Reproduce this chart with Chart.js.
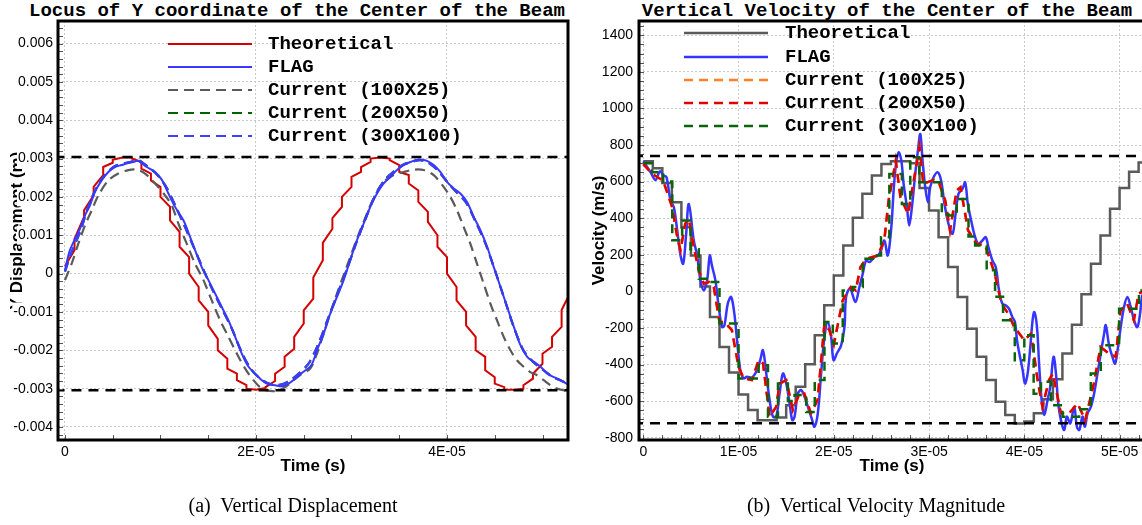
<!DOCTYPE html>
<html>
<head>
<meta charset="utf-8">
<script src="https://cdn.jsdelivr.net/npm/chart.js@4.4.1/dist/chart.umd.min.js"></script>
<style>
body { margin: 0; background: #fff; }
#page { position: relative; width: 1142px; height: 525px; overflow: hidden; }
canvas { position: absolute; top: 0; }
.title { position: absolute; top: 0; line-height: 20px; font: bold 19px "Liberation Mono", monospace; white-space: pre; transform: translateX(-50%); }
.cap { position: absolute; top: 494px; line-height: 22px; font: 20px "Liberation Serif", serif; white-space: pre; transform: translateX(-50%); }
</style>
</head>
<body>
<div id="page">
  <div class="title" style="left:297px">Locus of Y coordinate of the Center of the Beam</div>
  <div class="title" style="left:887px">Vertical Velocity of the Center of the Beam</div>
  <canvas id="left" width="575" height="525" style="left:0"></canvas>
  <canvas id="right" width="600" height="525" style="left:575px"></canvas>
  <div class="cap" style="left:293px">(a)  Vertical Displacement</div>
  <div class="cap" style="left:876px">(b)  Vertical Velocity Magnitude</div>
</div>
<script>
// time in units of 1E-05 s, displacement in mm (converted to m), velocity in m/s

// --- (a) displacement ---
const dispTheo = [[0,0.20],[0.1,0.61],[0.1,0.91],[0.2,1.48],[0.2,1.65],[0.3,2.04],[0.3,2.26],[0.4,2.57],[0.4,2.78],
  [0.5,2.89],[0.5,2.97],[0.6,3.03],[0.6,3.03],[0.7,3.03],[0.7,3.00],[0.8,2.91],[0.8,2.74],[0.9,2.61],[0.9,2.43],
  [1.0,2.26],[1.0,2.00],[1.1,1.74],[1.1,1.39],[1.2,1.09],[1.2,0.70],[1.3,0.43],[1.3,0.00],[1.4,-0.35],[1.4,-0.70],
  [1.5,-1.00],[1.5,-1.35],[1.6,-1.70],[1.6,-2.00],[1.7,-2.22],[1.7,-2.48],[1.8,-2.61],[1.8,-2.78],[1.9,-2.91],[1.9,-3.00],
  [2.0,-3.03],[2.0,-3.03],[2.1,-2.98],[2.1,-2.96],[2.2,-2.80],[2.2,-2.61],[2.3,-2.43],[2.3,-2.17],[2.4,-1.96],[2.4,-1.65],
  [2.5,-1.30],[2.5,-0.96],[2.6,-0.65],[2.6,-0.10],[2.7,0.35],[2.7,0.80],[2.8,1.17],[2.8,1.45],[2.9,1.74],[2.9,2.00],
  [3.0,2.26],[3.0,2.52],[3.1,2.65],[3.1,2.78],[3.2,2.91],[3.2,3.00],[3.3,3.03],[3.3,3.03],[3.4,3.00],[3.4,2.96],
  [3.5,2.83],[3.5,2.65],[3.6,2.57],[3.6,2.35],[3.7,2.17],[3.7,1.87],[3.8,1.61],[3.8,1.35],[3.9,1.00],[3.9,0.70],
  [4.0,0.43],[4.0,0.00],[4.1,-0.35],[4.1,-0.70],[4.2,-1.00],[4.2,-1.35],[4.3,-1.65],[4.3,-2.00],[4.4,-2.17],[4.4,-2.52],
  [4.5,-2.70],[4.5,-2.87],[4.6,-2.96],[4.6,-3.03],[4.7,-3.03],[4.7,-3.03],[4.8,-3.00],[4.8,-2.91],[4.9,-2.74],[4.9,-2.61],
  [5.0,-2.35],[5.0,-2.09],[5.1,-1.91],[5.1,-1.65],[5.2,-1.39],[5.2,-0.95],[5.3,-0.45]];

const dispFlag = [[0,0.09],[0.052,0.61],[0.157,1.17],[0.21,1.52],[0.262,1.78],[0.314,2.13],[0.384,2.43],[0.454,2.65],
  [0.524,2.78],[0.594,2.83],[0.646,2.87],[0.716,2.91],[0.762,2.94],[0.796,2.89],[0.856,2.78],[0.943,2.65],[1.013,2.45],
  [1.083,2.09],[1.153,1.74],[1.24,1.39],[1.29,1.09],[1.362,0.61],[1.432,0.17],[1.502,-0.17],[1.572,-0.52],[1.642,-0.87],
  [1.712,-1.22],[1.782,-1.65],[1.852,-2.09],[1.922,-2.43],[1.992,-2.61],[2.061,-2.78],[2.131,-2.89],[2.2,-2.91],
  [2.271,-2.94],[2.341,-2.87],[2.411,-2.74],[2.48,-2.59],[2.579,-2.39],[2.638,-2.00],[2.708,-1.57],[2.778,-1.04],
  [2.848,-0.61],[2.918,-0.17],[2.987,0.35],[3.057,0.87],[3.127,1.30],[3.197,1.74],[3.267,2.09],[3.337,2.35],[3.407,2.52],
  [3.476,2.70],[3.546,2.83],[3.616,2.91],[3.686,2.97],[3.74,2.97],[3.791,2.94],[3.861,2.83],[3.93,2.65],[4.0,2.39],
  [4.07,2.22],[4.14,2.09],[4.21,1.87],[4.28,1.48],[4.35,1.13],[4.42,0.70],[4.49,0.17],[4.56,-0.35],[4.63,-0.87],
  [4.7,-1.39],[4.77,-1.87],[4.84,-2.17],[4.91,-2.30],[4.98,-2.43],[5.05,-2.61],[5.12,-2.70],[5.19,-2.78],[5.25,-2.87],[5.3,-2.92]];

const disp100 = [[0,-0.17],[0.07,0.26],[0.14,0.78],[0.21,1.26],[0.28,1.65],[0.35,2.04],[0.454,2.43],[0.559,2.61],
  [0.664,2.70],[0.751,2.71],[0.838,2.61],[0.943,2.35],[1.048,2.04],[1.118,1.78],[1.188,1.30],[1.275,0.78],[1.362,0.26],
  [1.45,-0.17],[1.537,-0.70],[1.625,-1.22],[1.712,-1.65],[1.8,-2.09],[1.887,-2.48],[1.974,-2.78],[2.061,-3.00],
  [2.15,-3.06],[2.219,-3.06],[2.306,-2.96],[2.393,-2.78],[2.48,-2.61],[2.568,-2.48],[2.638,-2.09],[2.708,-1.57],
  [2.778,-1.04],[2.848,-0.52],[2.918,-0.04],[2.987,0.43],[3.057,0.91],[3.127,1.35],[3.197,1.78],[3.267,2.13],
  [3.337,2.39],[3.442,2.57],[3.546,2.65],[3.651,2.71],[3.756,2.70],[3.861,2.57],[3.965,2.26],[4.035,2.00],[4.105,1.65],
  [4.174,1.22],[4.244,0.78],[4.314,0.26],[4.384,-0.26],[4.454,-0.78],[4.524,-1.22],[4.594,-1.65],[4.664,-2.00],
  [4.733,-2.26],[4.803,-2.43],[4.873,-2.57],[4.943,-2.65],[5.012,-2.78],[5.082,-2.91],[5.152,-3.00],[5.25,-3.06]];

// 200X50 lies under the 300X100 curve
const disp300 = [[0,0.05],[0.06,0.50],[0.16,1.10],[0.26,1.85],[0.38,2.45],[0.52,2.80],[0.7,2.92],[0.77,2.96],[0.86,2.80],
  [0.95,2.62],[1.05,2.30],[1.15,1.80],[1.25,1.25],[1.36,0.62],[1.45,0.10],[1.55,-0.45],[1.65,-0.95],[1.75,-1.45],
  [1.85,-2.05],[1.95,-2.50],[2.05,-2.75],[2.15,-2.88],[2.25,-2.90],[2.35,-2.80],[2.45,-2.60],[2.55,-2.35],[2.65,-1.85],
  [2.75,-1.20],[2.85,-0.55],[2.95,0.10],[3.05,0.80],[3.15,1.45],[3.25,2.05],[3.35,2.45],[3.45,2.68],[3.55,2.85],
  [3.65,2.93],[3.72,2.96],[3.8,2.90],[3.9,2.70],[4.0,2.40],[4.1,2.12],[4.2,1.85],[4.3,1.35],[4.4,0.80],[4.5,0.10],
  [4.6,-0.65],[4.7,-1.40],[4.8,-2.00],[4.9,-2.30],[5.0,-2.50],[5.1,-2.68],[5.2,-2.80],[5.3,-2.90]];
const disp200 = disp300;
const dispBounds = [3.04, -3.04];
const dispXTicks = [0, 2e-5, 4e-5];
const dispXLabels = ['0', '2E-05', '4E-05'];
const dispYTicks = [-0.004, -0.003, -0.002, -0.001, 0, 0.001, 0.002, 0.003, 0.004, 0.005, 0.006];
const dispYLabels = ['-0.004', '-0.003', '-0.002', '-0.001', '0', '0.001', '0.002', '0.003', '0.004', '0.005', '0.006'];

// --- (b) velocity ---
const velTheo = [[0,711],[0.1,673],[0.2,593],[0.3,487],[0.4,351],[0.5,196],[0.6,27],[0.7,-140],[0.8,-304],[0.9,-444],
  [1.0,-564],[1.1,-649],[1.2,-704],[1.3,-704],[1.4,-690],[1.5,-622],[1.6,-522],[1.7,-398],[1.8,-240],[1.9,-76],
  [2.0,87],[2.1,251],[2.2,402],[2.3,533],[2.4,633],[2.5,696],[2.6,711],[2.7,711],[2.8,700],[2.9,565],[3.0,442],
  [3.1,296],[3.2,133],[3.3,-31],[3.4,-204],[3.5,-358],[3.6,-485],[3.7,-604],[3.8,-676],[3.9,-722],[4.0,-712],
  [4.1,-667],[4.2,-590],[4.3,-480],[4.4,-340],[4.5,-182],[4.6,-16],[4.7,151],[4.8,305],[4.9,451],[5.0,565],
  [5.1,654],[5.2,705],[5.3,705]];

const velFlag = [[0,711],[0.077,651],[0.129,609],[0.175,656],[0.216,633],[0.244,624],[0.286,496],[0.321,460],[0.356,333],
  [0.391,196],[0.419,151],[0.448,300],[0.478,478],[0.53,278],[0.565,196],[0.6,60],[0.635,5],[0.67,60],[0.698,196],
  [0.72,142],[0.757,60],[0.792,-85],[0.827,-195],[0.852,-185],[0.887,-67],[0.922,-31],[0.956,-122],[0.984,-267],
  [1.019,-431],[1.054,-476],[1.089,-467],[1.141,-471],[1.193,-431],[1.228,-376],[1.256,-322],[1.291,-449],[1.326,-594],
  [1.361,-685],[1.396,-685],[1.431,-558],[1.466,-449],[1.501,-504],[1.536,-613],[1.564,-704],[1.588,-685],[1.623,-558],
  [1.658,-540],[1.693,-576],[1.728,-631],[1.773,-704],[1.797,-740],[1.832,-667],[1.867,-449],[1.902,-249],[1.937,-167],
  [1.972,-249],[1.997,-376],[2.032,-340],[2.077,-295],[2.112,-195],[2.129,-31],[2.171,15],[2.227,-58],[2.269,24],
  [2.304,96],[2.339,169],[2.374,160],[2.426,187],[2.461,196],[2.496,224],[2.531,278],[2.566,196],[2.604,351],[2.628,551],
  [2.653,696],[2.681,760],[2.709,714],[2.733,587],[2.768,460],[2.792,360],[2.82,460],[2.855,642],[2.883,769],[2.908,860],
  [2.932,714],[2.96,569],[2.988,487],[3.012,569],[3.047,624],[3.092,651],[3.127,605],[3.162,478],[3.204,369],[3.246,314],
  [3.274,405],[3.309,533],[3.351,560],[3.379,596],[3.407,478],[3.442,387],[3.484,296],[3.518,260],[3.56,278],[3.595,296],
  [3.623,242],[3.665,169],[3.7,133],[3.735,5],[3.769,-67],[3.804,-76],[3.839,-95],[3.874,-140],[3.902,-167],[3.923,-267],
  [3.948,-340],[3.983,-431],[4.007,-504],[4.035,-449],[4.063,-304],[4.087,-158],[4.105,-113],[4.133,-195],[4.157,-413],
  [4.182,-594],[4.209,-676],[4.244,-594],[4.272,-522],[4.307,-358],[4.332,-449],[4.356,-613],[4.384,-704],[4.419,-758],
  [4.447,-685],[4.482,-722],[4.524,-631],[4.552,-740],[4.577,-758],[4.611,-685],[4.636,-740],[4.664,-667],[4.699,-631],
  [4.733,-558],[4.768,-449],[4.803,-340],[4.838,-231],[4.855,-185],[4.89,-295],[4.925,-358],[4.953,-395],[4.984,-304],
  [5.012,-195],[5.047,-85],[5.082,-31],[5.117,-85],[5.152,-158],[5.187,-195],[5.215,-122],[5.236,-31],[5.28,40]];

const vel200 = [[0,696],[0.094,642],[0.209,605],[0.304,460],[0.35,315],[0.39,224],[0.44,369],[0.478,396],[0.53,242],
  [0.583,115],[0.635,42],[0.688,51],[0.74,24],[0.8,-167],[0.852,-167],[0.93,-212],[1.0,-413],[1.054,-476],[1.14,-485],
  [1.211,-376],[1.257,-394],[1.326,-685],[1.396,-631],[1.431,-504],[1.501,-485],[1.57,-649],[1.64,-558],[1.69,-558],
  [1.76,-667],[1.83,-594],[1.902,-176],[1.955,-213],[2.0,-290],[2.094,-49],[2.18,24],[2.23,5],[2.28,133],[2.34,178],
  [2.46,196],[2.53,278],[2.576,500],[2.62,624],[2.65,714],[2.7,514],[2.78,424],[2.9,790],[2.94,587],[2.98,596],
  [3.05,610],[3.1,600],[3.17,496],[3.22,333],[3.29,551],[3.33,569],[3.41,333],[3.5,260],[3.59,251],[3.69,96],
  [3.76,-67],[3.83,-122],[3.895,-195],[4.0,-267],[4.07,-231],[4.14,-485],[4.19,-631],[4.26,-485],[4.3,-449],
  [4.384,-667],[4.47,-667],[4.56,-613],[4.64,-704],[4.73,-504],[4.8,-304],[4.89,-340],[4.96,-358],[5.01,-104],
  [5.08,-67],[5.15,-158],[5.2,-13],[5.28,10]];
// 100X25 is hidden under the 200X50 curve
const vel100 = vel200;

// 300X100 is a staircase: value holds until the next time
const vel300 = [[0,700],[0.094,651],[0.209,600],[0.304,280],[0.408,387],[0.496,230],[0.583,69],[0.688,51],[0.8,-176],
  [1.0,-476],[1.211,-404],[1.309,-685],[1.414,-504],[1.518,-600],[1.588,-567],[1.71,-660],[1.8,-485],[1.902,-167],
  [1.99,-285],[2.094,5],[2.2,24],[2.304,178],[2.41,196],[2.496,296],[2.583,642],[2.715,478],[2.803,733],[2.897,596],
  [3.134,420],[3.204,415],[3.291,505],[3.414,300],[3.484,251],[3.605,115],[3.693,-30],[3.777,-158],[3.9,-376],
  [4.0,-240],[4.098,-560],[4.175,-494],[4.279,-622],[4.401,-685],[4.576,-645],[4.698,-449],[4.803,-295],[4.995,-95],
  [5.204,5],[5.3,5]];
const velBounds = [740, -721];
const velXTicks = [0, 1e-5, 2e-5, 3e-5, 4e-5, 5e-5];
const velXLabels = ['0', '1E-05', '2E-05', '3E-05', '4E-05', '5E-05'];
const velYTicks = [-800, -600, -400, -200, 0, 200, 400, 600, 800, 1000, 1200, 1400];
const velYLabels = ['-800', '-600', '-400', '-200', '0', '200', '400', '600', '800', '1000', '1200', '1400'];

// -------------------------------------------------------------
function pts(list, k) {
  return list.map(p => ({ x: p[0] * 1e-5, y: p[1] * k }));
}
function hline(v, k) {
  return { label: '', data: [{ x: -1e-5, y: v * k }, { x: 6e-5, y: v * k }], borderColor: '#000', borderWidth: 2.5, borderDash: [10, 7], order: 0 };
}
function minors(from, to, step) {
  const out = [];
  for (let v = from; v <= to + step / 2; v += step) out.push(v);
  return out;
}

const frameLegend = {
  id: 'frameLegend',
  afterDatasetsDraw(chart, args, o) {
    const { ctx, chartArea: a } = chart;
    const sx = chart.scales.x, sy = chart.scales.y;
    ctx.save();
    ctx.setLineDash([]);
    ctx.strokeStyle = '#555';
    ctx.lineWidth = 1;
    o.xMinor.forEach(v => {
      const p = Math.round(sx.getPixelForValue(v)) + 0.5;
      if (p < a.left + 2 || p > a.right - 2) return;
      ctx.beginPath(); ctx.moveTo(p, a.bottom); ctx.lineTo(p, a.bottom - 5); ctx.stroke();
    });
    o.yMinor.forEach(v => {
      const p = Math.round(sy.getPixelForValue(v)) + 0.5;
      if (p < a.top + 2 || p > a.bottom - 2) return;
      ctx.beginPath(); ctx.moveTo(a.left, p); ctx.lineTo(a.left + 5, p); ctx.stroke();
    });
    ctx.strokeStyle = '#000';
    ctx.lineWidth = 3;
    ctx.strokeRect(a.left, a.top, a.right - a.left, a.bottom - a.top);

    // legend
    ctx.font = 'bold 19px "Liberation Mono", monospace';
    ctx.textBaseline = 'middle';
    ctx.fillStyle = '#000';
    chart.data.datasets.filter(d => d.label).forEach((d, i) => {
      const y = o.rows[i];
      ctx.strokeStyle = d.borderColor;
      ctx.lineWidth = d.borderWidth;
      ctx.setLineDash(d.borderDash || []);
      ctx.beginPath(); ctx.moveTo(o.x0, y); ctx.lineTo(o.x1, y); ctx.stroke();
      ctx.fillText(d.label, o.xt, y);
    });
    ctx.restore();
  }
};

function panel(id, c) {
  const tickFont = { family: '"Liberation Sans", Arial, sans-serif', size: 14 };
  const titleFont = { family: '"Liberation Sans", Arial, sans-serif', size: 17, weight: 'bold' };
  return new Chart(document.getElementById(id), {
    type: 'line',
    data: { datasets: c.datasets },
    options: {
      responsive: false,
      animation: false,
      devicePixelRatio: 1,
      layout: { padding: c.padding },
      elements: { point: { radius: 0 }, line: { fill: false } },
      plugins: { legend: { display: false }, tooltip: { enabled: false }, frameLegend: c.legend },
      scales: {
        x: {
          type: 'linear', min: c.xMin, max: c.xMax,
          afterBuildTicks: s => { s.ticks = c.xTicks.map(v => ({ value: v })); },
          afterFit: s => { s.height = 37; },
          grid: { color: '#c8c8c8', lineWidth: 1, drawTicks: false },
          border: { display: false, dash: [2, 2] },
          ticks: { autoSkip: false, maxRotation: 0, padding: 4, color: '#000', font: tickFont,
                   callback: (v, i) => c.xLabels[i] },
          title: { display: true, text: 'Time (s)', color: '#000', font: titleFont, padding: 0 }
        },
        y: {
          type: 'linear', min: c.yMin, max: c.yMax,
          afterBuildTicks: s => { s.ticks = c.yTicks.map(v => ({ value: v })); },
          afterFit: s => { s.width = c.yWidth; },
          grid: { color: '#c8c8c8', lineWidth: 1, drawTicks: false },
          border: { display: false, dash: [2, 2] },
          ticks: { autoSkip: false, padding: c.yPad, color: '#000', font: tickFont,
                   showLabelBackdrop: true, backdropColor: '#fff', backdropPadding: 1,
                   callback: (v, i) => c.yLabels[i] },
          title: { display: true, text: c.yTitle, color: '#000', font: titleFont, padding: { top: c.yTitlePad, bottom: 0 } }
        }
      }
    },
    plugins: [frameLegend]
  });
}

const mm = 1e-3;
panel('left', {
  padding: { left: 0, right: 7, top: 21, bottom: 48 },
  xMin: -0.073e-5, xMax: 5.267e-5, xTicks: dispXTicks, xLabels: dispXLabels,
  yMin: -0.004339, yMax: 0.006587, yTicks: dispYTicks, yLabels: dispYLabels,
  yWidth: 58, yPad: 5, yTitle: 'Y Displacement (m)', yTitlePad: 7,
  legend: { x0: 168, x1: 252, xt: 268, rows: [44, 67, 90, 113, 136],
            xMinor: minors(0, 5.5e-5, 0.5e-5), yMinor: minors(-0.0044, 0.0066, 0.0002) },
  datasets: [
    { label: 'Theoretical', data: pts(dispTheo, mm), borderColor: '#d40000', borderWidth: 2, order: 5 },
    { label: 'FLAG', data: pts(dispFlag, mm), borderColor: '#3838ff', borderWidth: 2, tension: 0.3, order: 1 },
    { label: 'Current (100X25)', data: pts(disp100, mm), borderColor: '#5a5a5a', borderWidth: 2.2, borderDash: [10, 6], tension: 0.3, order: 4 },
    { label: 'Current (200X50)', data: pts(disp200, mm), borderColor: '#006400', borderWidth: 2.2, borderDash: [10, 6], tension: 0.3, order: 3 },
    { label: 'Current (300X100)', data: pts(disp300, mm), borderColor: '#4040ff', borderWidth: 2.2, borderDash: [10, 6], tension: 0.3, order: 2 },
    hline(dispBounds[0], mm),
    hline(dispBounds[1], mm)
  ]
});

panel('right', {
  padding: { left: 0, right: 30, top: 21, bottom: 48 },
  xMin: -0.045e-5, xMax: 5.267e-5, xTicks: velXTicks, xLabels: velXLabels,
  yMin: -812.6, yMax: 1478, yTicks: velYTicks, yLabels: velYLabels,
  yWidth: 64, yPad: 6, yTitle: 'Velocity (m/s)', yTitlePad: 14,
  legend: { x0: 109, x1: 193, xt: 210, rows: [33, 57, 80, 103, 126],
            xMinor: minors(0, 5.4e-5, 0.2e-5), yMinor: minors(-800, 1450, 50) },
  datasets: [
    { label: 'Theoretical', data: pts(velTheo, 1), borderColor: '#5a5a5a', borderWidth: 2.5, stepped: true, order: 5 },
    { label: 'FLAG', data: pts(velFlag, 1), borderColor: '#3535ff', borderWidth: 2.5, tension: 0.35, order: 4 },
    { label: 'Current (100X25)', data: pts(vel100, 1), borderColor: '#ff7f2a', borderWidth: 2.5, borderDash: [9, 6], order: 3 },
    { label: 'Current (200X50)', data: pts(vel200, 1), borderColor: '#e00000', borderWidth: 2.5, borderDash: [9, 6], order: 2 },
    { label: 'Current (300X100)', data: pts(vel300, 1), borderColor: '#0a640a', borderWidth: 2.5, borderDash: [9, 6], stepped: true, order: 1 },
    hline(velBounds[0], 1),
    hline(velBounds[1], 1)
  ]
});
</script>
</body>
</html>
